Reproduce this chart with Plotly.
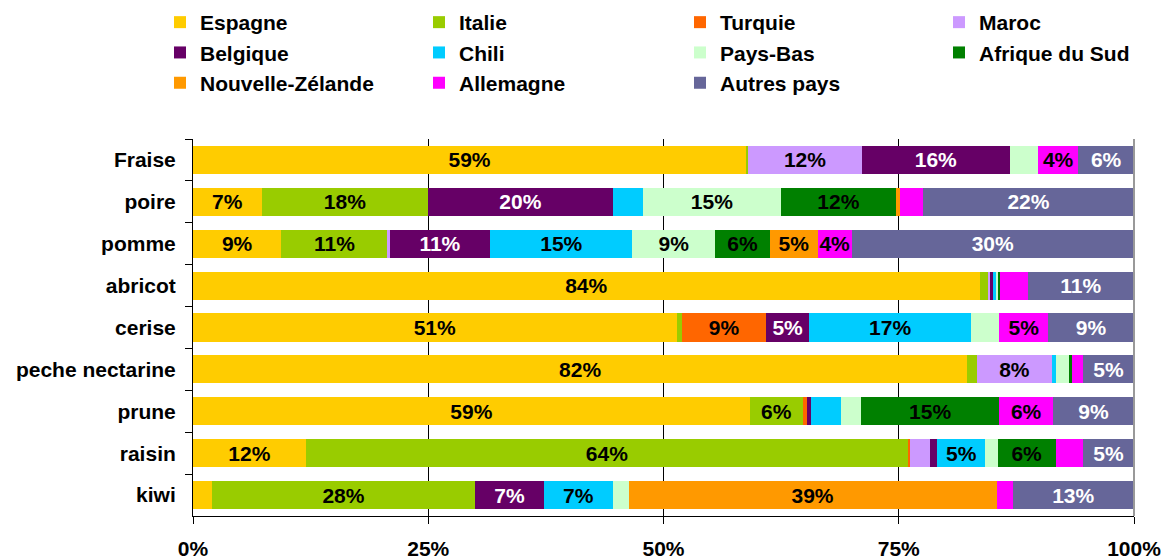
import plotly.graph_objects as go

categories = ["Fraise", "poire", "pomme", "abricot", "cerise",
              "peche nectarine", "prune", "raisin", "kiwi"]

espagne = [58.8, 7.3, 9.4, 83.6, 51.4, 82.3, 59.2, 12.0, 2.0]
italie = [0.2, 17.7, 11.3, 0.9, 0.6, 1.0, 5.6, 64.0, 28.0]
turquie = [0, 0, 0, 0, 8.9, 0, 0.4, 0.2, 0]
maroc = [12.1, 0, 0.2, 0.2, 0, 8.0, 0, 2.1, 0]
belgique = [15.7, 19.6, 10.7, 0.3, 4.6, 0, 0.5, 0.8, 7.3]
chili = [0, 3.2, 15.1, 0.4, 17.2, 0.4, 3.2, 5.1, 7.3]
pays_bas = [3.0, 14.7, 8.8, 0.2, 3.0, 1.4, 2.1, 1.3, 1.7]
afrique_sud = [0, 12.2, 5.8, 0.2, 0, 0.3, 14.7, 6.2, 0]
nouvelle_zelande = [0, 0.4, 5.1, 0, 0, 0, 0, 0, 39.1]
allemagne = [4.3, 2.5, 3.6, 2.9, 5.2, 1.2, 5.7, 2.9, 1.7]
autres = [5.9, 22.4, 30.0, 11.3, 9.1, 5.4, 8.6, 5.4, 12.9]

x_ticks = [0, 25, 50, 75, 100]
x_ticklabels = ["0%", "25%", "50%", "75%", "100%"]

series = [
    ("Espagne", espagne, "#FFCC00", "black"),
    ("Italie", italie, "#99CC00", "black"),
    ("Turquie", turquie, "#FF6600", "black"),
    ("Maroc", maroc, "#CC99FF", "black"),
    ("Belgique", belgique, "#660066", "white"),
    ("Chili", chili, "#00CCFF", "black"),
    ("Pays-Bas", pays_bas, "#CCFFCC", "black"),
    ("Afrique du Sud", afrique_sud, "#008000", "black"),
    ("Nouvelle-Zélande", nouvelle_zelande, "#FF9900", "black"),
    ("Allemagne", allemagne, "#FF00FF", "black"),
    ("Autres pays", autres, "#666699", "white"),
]

FONT = "Liberation Sans, Arial, sans-serif"
FS = 21

# the legend is laid out in 4 columns, one plotly legend per column
legend_keys = ["legend", "legend2", "legend3", "legend4"]
legend_left_px = [160, 419, 680, 939]
plot_l, plot_w = 193, 941

fig = go.Figure()
for i, (name, vals, color, tcol) in enumerate(series):
    labels = [f"{v:.0f}%" if v >= 3.5 else "" for v in vals]
    fig.add_trace(go.Bar(
        y=categories, x=vals, name=name, orientation="h",
        marker=dict(color=color, line=dict(width=0)),
        text=labels, textposition="inside", insidetextanchor="middle",
        textangle=0,
        insidetextfont=dict(family=FONT, size=FS, color=tcol, weight="bold"),
        hoverinfo="name+x",
        legend=legend_keys[i % 4],
    ))

# grey border on the right of the plot area
fig.add_shape(type="line", xref="paper", yref="paper", x0=1, x1=1, y0=0, y1=1,
              line=dict(color="#999999", width=2))

legends = {}
for key, px in zip(legend_keys, legend_left_px):
    legends[key] = dict(
        orientation="v", xref="paper", yref="container",
        x=(px - plot_l) / plot_w, y=1 - 2 / 560, xanchor="left", yanchor="top",
        traceorder="normal", bgcolor="rgba(0,0,0,0)",
        font=dict(family=FONT, size=FS, color="black", weight="bold"),
        itemclick=False, itemdoubleclick=False,
    )

fig.update_layout(
    barmode="stack",
    bargap=0.33,
    width=1163, height=560,
    margin=dict(l=plot_l, r=29, t=139, b=44),
    plot_bgcolor="white", paper_bgcolor="white",
    font=dict(family=FONT, size=FS, color="black", weight="bold"),
    uniformtext=dict(minsize=FS, mode="show"),
    showlegend=True,
    xaxis=dict(
        range=[0, 100], tickvals=x_ticks, ticktext=x_ticklabels,
        showgrid=True, gridcolor="black", gridwidth=1,
        showline=True, linecolor="black", linewidth=1,
        ticks="outside", ticklen=7, tickcolor="black",
        ticklabelstandoff=7, zeroline=False, fixedrange=True, automargin=False,
    ),
    yaxis=dict(
        autorange="reversed", showline=True, linecolor="black", linewidth=1,
        ticks="outside", ticklen=7, tickcolor="black", tickson="boundaries",
        ticklabelstandoff=12, showgrid=False, fixedrange=True, automargin=False,
    ),
    **legends,
)

fig.write_html("out.html", config={"displayModeBar": False},
               post_script="document.body.style.margin='0px';")
